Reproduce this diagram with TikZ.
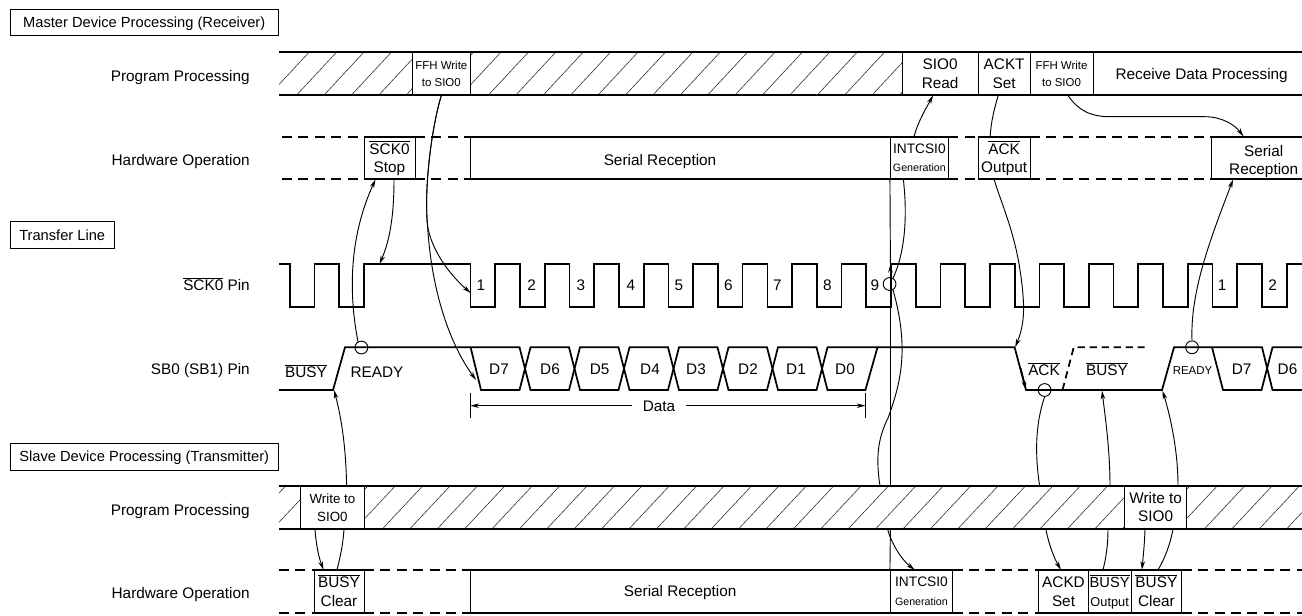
\documentclass[tikz,border=0pt]{standalone}
\usepackage{fontspec}
\setmainfont{Liberation Sans}
\usetikzlibrary{arrows.meta}
\newcommand{\ol}[1]{\ensuremath{\overline{\hbox{#1}}}}
\newcommand{\fs}[2]{\fontsize{#1}{#2}\selectfont}
\newcommand{\cell}[7][]{%
  \pgfmathsetmacro\cw{(#4-#3)*0.75}\pgfmathsetmacro\ch{(#6-#5)*0.75}%
  \node[cellbox,minimum width=\cw pt,minimum height=\ch pt,#1] (#2) at ({(#3+#4)/2},{(#5+#6)/2}) {#7};}
\tikzset{
  lbl/.style={inner sep=0pt,align=center,text height=8.2pt,text depth=0pt,font=\fs{11.5}{13.75}},
  rowlbl/.style={lbl,anchor=east},
  twolines/.style={text height=21.95pt},
  titletxt/.style={font=\fs{11}{13.75}},
  smalltxt/.style={font=\fs{8.6}{12.75},text height=6.2pt},
  smalltwo/.style={font=\fs{8.6}{12.75},text height=18.95pt},
  inttxt/.style={text height=20.4pt},
  cellbox/.style={lbl,draw=black,line width=.7pt,fill=white},
  band/.style={line width=1.6pt},
  dashline/.style={line width=1.6pt,dash pattern=on 7.5pt off 4.8pt},
  wave/.style={line width=1.3pt,line join=miter},
  hatch/.style={line width=.45pt,black!80},
  conn/.style={line width=.7pt},
  tip/.style={-{Stealth[length=6.5pt,width=3.4pt]}},
  ring/.style={circle,draw=black,line width=.7pt,minimum size=9.6pt,inner sep=0pt},
}
\begin{document}
\begin{tikzpicture}[x=0.75pt,y=-0.75pt]
\useasboundingbox (0,0) rectangle (1302,616);
% section titles
\cell[titletxt]{masterT}{10.4}{278}{9}{35.5}{Master Device Processing (Receiver)}
\cell[titletxt]{transferT}{10.4}{114}{221.5}{248}{Transfer Line}
\cell[titletxt]{slaveT}{10.4}{278}{443}{470}{Slave Device Processing (Transmitter)}
% row labels
\node[rowlbl] (r1) at (250,76) {Program Processing};
\node[rowlbl] (r2) at (250,160) {Hardware Operation};
\node[rowlbl] (r3) at (250,285.5) {\ol{SCK0} Pin};
\node[rowlbl] (r4) at (250,369) {SB0 (SB1) Pin};
\node[rowlbl] (r5) at (250,510) {Program Processing};
\node[rowlbl] (r6) at (250,593) {Hardware Operation};
% hatching
\begin{scope}
\clip (279,52) rectangle (902,95);
\foreach \k in {-1,...,23} \draw[hatch] ({296.7+27.4*\k},95) -- ({336.7+27.4*\k},52);
\end{scope}
\begin{scope}
\clip (279,486) rectangle (1302,528.7);
\foreach \k in {-1,...,38} \draw[hatch] ({273+27.4*\k},528.7) -- ({313+27.4*\k},486);
\end{scope}
% master program cells
\cell[smalltwo]{ffhA}{412.6}{470}{52}{95}{FFH Write\\to SIO0}
\cell[twolines]{sioRead}{902}{978.3}{52}{95}{SIO0\\Read}
\cell[twolines]{acktSet}{978.3}{1030}{52}{95}{ACKT\\Set}
\cell[smalltwo]{ffhB}{1030}{1093}{52}{95}{FFH Write\\to SIO0}
\cell{rdp}{1093}{1306}{52}{95}{}
\node[lbl] (rdpT) at (1201.7,74) {Receive Data Processing};
% master hardware cells
\cell[twolines]{sckStop}{364}{415}{137}{179}{\ol{SCK0}\\Stop}
\cell{srA}{470}{890.4}{137}{179}{}
\node[lbl] (srAT) at (660,160) {Serial Reception};
\cell[inttxt]{intA}{890.4}{948.3}{137}{179}{\fs{10.3}{13}INTCSI0\\\fs{8}{12}Generation}
\cell[twolines]{ackOut}{978.3}{1030}{137}{179}{\ol{ACK}\\Output}
\cell{srB}{1211.7}{1306}{137}{179}{}
\node[lbl,twolines] (srBT) at (1263.7,160) {Serial\\Reception};
% slave program cells
\cell[twolines,font=\fs{10}{13.75}]{wrA}{300.8}{364}{486}{528.7}{Write to\\SIO0}
\cell[twolines]{wrB}{1124.6}{1186.7}{486}{528.7}{Write to\\SIO0}
% slave hardware cells
\cell[twolines]{busyClrA}{314}{364}{570.3}{612.7}{\ol{BUSY}\\Clear}
\cell{srC}{470}{890.4}{570.3}{612.7}{Serial Reception}
\cell[inttxt]{intB}{890.4}{952.5}{570.3}{612.7}{\fs{10.3}{13}INTCSI0\\\fs{8}{12}Generation}
\cell[twolines]{ackdSet}{1038.7}{1088.3}{570.3}{612.7}{ACKD\\Set}
\cell[twolines]{busyOut}{1088.3}{1131}{570.3}{612.7}{\fs{11}{13.75}\ol{BUSY}\\\fs{9.6}{13.75}Output}
\cell[twolines]{busyClrB}{1131}{1181.7}{570.3}{612.7}{\ol{BUSY}\\Clear}
% band rules
\foreach \y in {52,95} \draw[band] (279,\y) -- (1302,\y);
\foreach \y in {486,528.7} \draw[band] (279,\y) -- (1302,\y);
\foreach \y in {137,179} {
  \draw[dashline] (282,\y) -- (364,\y);
  \draw[band] (364,\y) -- (415,\y);
  \draw[dashline] (415,\y) -- (470,\y);
  \draw[band] (470,\y) -- (948.3,\y);
  \draw[dashline] (948.3,\y) -- (978.3,\y);
  \draw[band] (978.3,\y) -- (1030,\y);
  \draw[dashline] (1030,\y) -- (1211.7,\y);
  \draw[band] (1211.7,\y) -- (1302,\y);
}
\foreach \y in {570.3,612.7} {
  \draw[dashline] (279,\y) -- (314,\y);
  \draw[band] (314,\y) -- (364,\y);
  \draw[dashline] (364,\y) -- (470,\y);
  \draw[band] (470,\y) -- (952.5,\y);
  \draw[dashline] (952.5,\y) -- (1038.7,\y);
  \draw[band] (1038.7,\y) -- (1181.7,\y);
  \draw[dashline] (1181.7,\y) -- (1302,\y);
}
% SCK0 waveform
\draw[wave] (279,264) -| (290,307) -| (314.5,264) -| (339,307) -| (364,264) -| (470.6,307)
 -| (495.3,264) -| (520.1,307) -| (544.8,264) -| (569.5,307) -| (594.3,264) -| (619,307)
 -| (643.7,264) -| (668.4,307) -| (693.2,264) -| (717.9,307) -| (742.6,264) -| (767.4,307)
 -| (792.1,264) -| (816.8,307) -| (841.6,264) -| (866.3,307) -| (891,264) -| (915.7,307)
 -| (940.5,264) -| (965.2,307) -| (989.9,264) -| (1014.7,307) -| (1039.4,264) -| (1064.1,307)
 -| (1088.9,264) -| (1113.6,307) -| (1138.3,264) -| (1163,307) -| (1187.8,264) -| (1212.5,307)
 -| (1237.2,264) -| (1262,307) -| (1286.7,264) -- (1302,264);
\foreach \n/\x in {1/481,2/531.6,3/581,4/631,5/679,6/728.5,7/777.5,8/827.5,9/875,1/1222,2/1272.5}
  \node[lbl] (n\n x\x) at (\x,285.5) {\n};
% SB0 waveform
\draw[wave] (279,390) -- (333,390) -- (345,347.3) -- (519.5,347.3) -- (530.5,390) -- (569,390) -- (580,347.3)
 -- (618.5,347.3) -- (629.5,390) -- (668,390) -- (679,347.3) -- (717.5,347.3) -- (728.5,390) -- (767,390)
 -- (778,347.3) -- (816.5,347.3) -- (827.5,390) -- (865.4,390) -- (877.5,347.3) -- (1014.6,347.3)
 -- (1026,390) -- (1162,390) -- (1174,347.3) -- (1262,347.3) -- (1272.5,390) -- (1302,390);
\draw[wave] (470.6,347.3) -- (481,390) -- (519.5,390) -- (530.5,347.3) -- (569,347.3) -- (580,390)
 -- (618.5,390) -- (629.5,347.3) -- (668,347.3) -- (679,390) -- (717.5,390) -- (728.5,347.3) -- (767,347.3)
 -- (778,390) -- (816.5,390) -- (827.5,347.3) -- (877.5,347.3);
\draw[wave] (1212,347.3) -- (1223,390) -- (1261.5,390) -- (1272.5,347.3) -- (1302,347.3);
\draw[wave,dash pattern=on 5.5pt off 3.5pt] (1062.5,390) -- (1073.7,347.3) -- (1144.6,347.3);
% SB0 labels
\node[lbl] (tBusy) at (306,372) {\ol{BUSY}};
\node[lbl] (tReady) at (377,372) {READY};
\foreach \t/\x in {D7/499,D6/550,D5/599.6,D4/650,D3/696,D2/748,D1/796,D0/845,D7/1241.7,D6/1287.5}
  \node[lbl] (t\t x\x) at (\x,369) {\t};
\node[lbl] (tAck) at (1044,370) {\ol{ACK}};
\node[lbl] (tBusyB) at (1107,370) {\ol{BUSY}};
\node[lbl,smalltxt] (tReadyB) at (1192.5,370) {READY};
% data dimension
\node[lbl] (tData) at (659,405.7) {Data};
\coordinate (dL) at (470.3,405.7);
\coordinate (dR) at (865.4,405.7);
\draw[conn] (470.3,393) -- (470.3,418);
\draw[conn] (865.4,393) -- (865.4,418);
\draw[conn,tip] (tData.west) ++(-11,0) -- (dL);
\draw[conn,tip] (tData.east) ++(11,0) -- (dR);
% circles
\node[ring] (c1) at (361.4,347.5) {};
\node[ring] (c2) at (889.6,284) {};
\node[ring] (c3) at (1044.6,390) {};
\node[ring] (c4) at (1192,347.3) {};
% free ends
\coordinate (clkOne) at (470.6,293);
\coordinate (dSeven) at (476,380);
\coordinate (clkStop) at (379.5,264);
\coordinate (sbRise) at (334,390);
\coordinate (sbFallTop) at (1015.2,347.3);
\coordinate (sbFallMid) at (1020.5,368);
\coordinate (sbFallEnd) at (1026,390);
\coordinate (busyEdge) at (1102,390.7);
\coordinate (rdyEdge) at (1162.5,390.7);
\coordinate (slTopA) at (880,486);
\coordinate (slBotA) at (887.5,529);
\coordinate (slTopAck) at (1039.6,486);
\coordinate (slBotAck) at (1045.8,529);
\coordinate (slTopBusy) at (1110,486);
\coordinate (slBotBusy) at (1108,529);
\coordinate (vTop) at (890.4,486);
\coordinate (vBot) at (890.4,529);
\coordinate (vClk) at (890.4,264);
% connectors: master program / hardware
\draw[conn,tip] (ffhA.south) .. controls (431,130) and (424,190) .. (427.5,225) .. controls (431,250) and (450,275) .. (clkOne);
\draw[conn,tip] (ffhA.south) .. controls (431,130) and (424,190) .. (427.5,225) .. controls (431,285) and (447,340) .. (dSeven);
\draw[conn,tip] ([shift={(4.5,0)}]sckStop.south) .. controls (394,215) and (390,240) .. (clkStop);
\draw[conn,tip] (c1.120) .. controls (348,290) and (350,235) .. ([shift={(-14,0)}]sckStop.south);
\draw[conn,tip] ([shift={(-5.4,0)}]intA.north) .. controls (918,122) and (925,110) .. ([shift={(-7,0)}]sioRead.south);
\draw[conn] ([shift={(-6,0)}]acktSet.south) .. controls (994,110) and (991,122) .. ([shift={(-14,0)}]ackOut.north);
\draw[conn,tip] ([shift={(-10,0)}]ackOut.south) .. controls (1000,200) and (1014,230) .. (1020,270) .. controls (1026,310) and (1024,325) .. (sbFallTop);
\draw[wave,tip] (sbFallMid) -- (sbFallEnd);
\draw[conn,tip] ([shift={(6.5,0)}]ffhB.south) .. controls (1078,110) and (1090,116.7) .. (1110,116.7) -- (1205,116.7) .. controls (1222,116.7) and (1235,125) .. ([shift={(-15.3,0)}]srB.north);
\draw[conn,tip] (c4.north) .. controls (1190,290) and (1212,235) .. ([shift={(-25.8,0)}]srB.south);
% INTCSI0
\draw[conn] ([shift={(-16,0)}]intA.south) .. controls (908,220) and (904,255) .. (c2.60);
\draw[conn] (slTopA) .. controls (876,460) and (877,440) .. (888,418) .. controls (900,385) and (910,350) .. (c2.-60);
\draw[conn] (intA.south west) -- (vClk);
\draw[conn,tip] (vTop) -- (vClk);
\draw[conn] (vBot) -- (intB.north west);
\draw[conn,tip] (slBotA) .. controls (892,545) and (902,560) .. ([shift={(-6.85,0)}]intB.north);
% slave connectors
\draw[conn,tip] ([shift={(14.2,0)}]wrA.north) .. controls (346,450) and (342,420) .. (sbRise);
\draw[conn,tip] ([shift={(-17.4,0)}]wrA.south) .. controls (316,545) and (319,558) .. ([shift={(-15.5,0)}]busyClrA.north);
\draw[conn] ([shift={(11.6,0)}]wrA.south) .. controls (343,545) and (340,558) .. ([shift={(-2,0)}]busyClrA.north);
\draw[conn] (c3.south) .. controls (1035,425) and (1035,455) .. (slTopAck);
\draw[conn,tip] (slBotAck) .. controls (1049,545) and (1054,558) .. ([shift={(-2.5,0)}]ackdSet.north);
\draw[conn,tip] (slTopBusy) .. controls (1110,450) and (1105,415) .. (busyEdge);
\draw[conn] (slBotBusy) .. controls (1108,545) and (1106,558) .. ([shift={(-6.65,0)}]busyOut.north);
\draw[conn,tip] ([shift={(22.35,0)}]wrB.north) .. controls (1178,450) and (1170,415) .. (rdyEdge);
\draw[conn,tip] ([shift={(-10.65,0)}]wrB.south) .. controls (1144.5,545) and (1143,558) .. ([shift={(-14.35,0)}]busyClrB.north);
\draw[conn] ([shift={(17.35,0)}]wrB.south) .. controls (1170,545) and (1165,558) .. ([shift={(1.65,0)}]busyClrB.north);
\end{tikzpicture}
\end{document}
